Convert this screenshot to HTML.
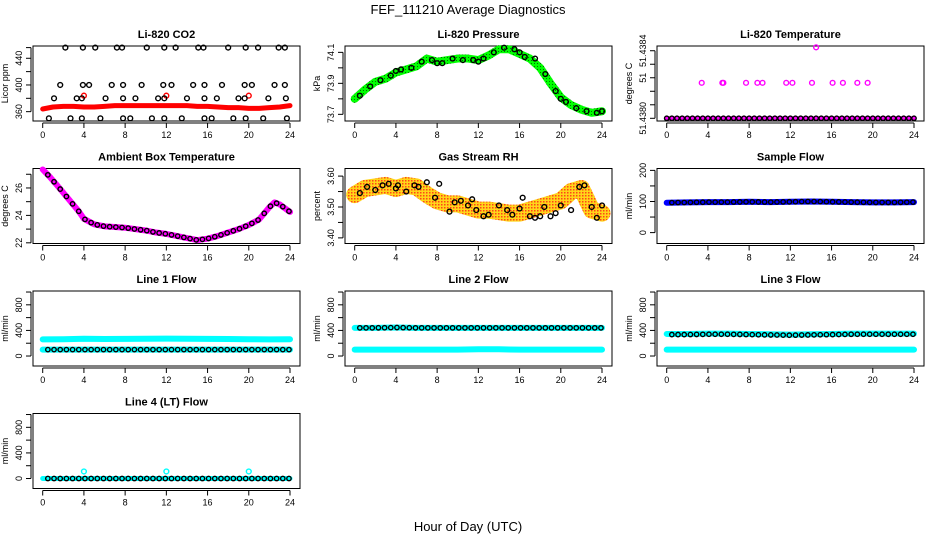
<!DOCTYPE html>
<html><head><meta charset="utf-8"><title>FEF_111210 Average Diagnostics</title>
<style>
html,body{margin:0;padding:0;background:#fff;}
svg{display:block;font-family:"Liberation Sans",Arial,sans-serif;}
</style></head>
<body>
<svg id="chart" width="936" height="540" viewBox="0 0 936 540" xmlns="http://www.w3.org/2000/svg">
<defs>
<pattern id="rhpat" width="3" height="3" patternUnits="userSpaceOnUse">
<rect width="3" height="3" fill="#ffd000"/><rect width="1.5" height="1.5" fill="#ff3000"/>
</pattern>
<pattern id="grpat" width="3" height="3" patternUnits="userSpaceOnUse">
<rect width="3" height="3" fill="#00ff00"/><rect width="1" height="1" fill="#007000"/>
</pattern>
</defs>
<text x="468" y="14" text-anchor="middle" font-size="13">FEF_111210  Average Diagnostics</text>
<text x="468" y="531" text-anchor="middle" font-size="13">Hour of Day (UTC)</text>
</svg>
<script>
// ---------- data arrays ----------
const xTicks = [0,4,8,12,16,20,24];

const co2BandHours = [0,1,2,3,4,5,6,7,8,9,10,11,12,13,14,15,16,17,18,19,20,21,22,23,24];
const co2BandValues = [364,367,368,368,367,367,368,369,369,369,369,369,369,369,369,368,368,367,366,366,365,365,366,367,369];
const co2Hours461 = [2.2,3.9,5.1,7.2,7.7,10.1,11.8,12.9,15.1,15.6,18,19.7,20.9,22.9,23.5];
const co2Hours400 = [1.7,3.9,4.5,6.7,7.8,9.6,11.7,12.5,14.6,15.7,17.4,19.6,20.3,22.5,23.5];
const co2Hours380 = [1.1,3.3,3.8,6.1,7.8,9.0,11.2,11.8,14.0,15.7,16.9,19.0,19.6,21.9,23.6];
const co2Hours350 = [0.6,2.7,3.8,5.6,7.8,8.5,10.6,11.8,13.5,15.7,16.4,18.5,19.7,21.4,23.7];
const co2Levels = [456,400,380,350];
const co2RedHours = [4,12,20];
const co2RedValues = [384,384,384];

const presHours = [0,1,2,3,4,5,6,7,8,9,10,11,12,13,14,15,16,17,18,19,20,21,22,23,24];
const presValues = [73.80,73.86,73.91,73.93,73.97,73.99,74.01,74.06,74.04,74.05,74.06,74.06,74.05,74.08,74.12,74.12,74.09,74.06,74.00,73.90,73.81,73.76,73.73,73.71,73.72];
const presDotHours = [0.5,1.5,2.5,3.5,4,4.5,5.5,6.5,7.5,8,8.5,9.5,10.5,11.5,12,12.5,13.5,14.5,15.5,16,16.5,17.5,18.5,19.5,20,20.5,21.5,22.5,23.5,24];
const presDotValues = [73.82,73.88,73.92,73.95,73.98,73.99,74.00,74.04,74.05,74.03,74.03,74.06,74.05,74.05,74.04,74.06,74.10,74.13,74.12,74.10,74.07,74.06,73.96,73.85,73.80,73.78,73.74,73.72,73.71,73.72];

const tempHoursMid = [3.4,5.4,5.5,7.7,8.8,9.3,11.6,12.2,14.1,16.1,17.1,18.5,19.5];
const tempMidValue = [51.43821];
const tempHoursTop = [14.5];
const tempTopValue = [51.43842];
const tempBaseValue = [51.43800];

const ambHours = [0,0.7,1.5,2.5,3.5,4,5,6,7,8,9,10,11,12,13,14,15,16,17,18,19,20,21,22,22.5,23,24];
const ambValues = [27.35,26.8,26.1,25.2,24.3,23.75,23.35,23.2,23.15,23.1,23.0,22.9,22.75,22.65,22.5,22.35,22.2,22.3,22.5,22.75,23.0,23.3,23.7,24.6,24.95,24.8,24.25];

const rhHours = [0,1,2,3,4,5,6,7,8,9,10,11,12,13,14,15,16,17,18,19,20,21,22,23,24];
const rhValues = [3.54,3.56,3.565,3.57,3.56,3.57,3.565,3.54,3.52,3.51,3.51,3.50,3.49,3.49,3.485,3.48,3.48,3.49,3.50,3.51,3.52,3.55,3.56,3.49,3.48];
const rhDotHours = [0.5,1.2,2,2.7,3.3,4,4.2,5,5.8,6.2,7,7.8,8.2,9.2,9.7,10.3,11.0,11.4,11.8,12.5,13.0,14.0,14.8,15.3,16,16.3,17,17.5,18,18.4,19,19.5,20.0,21,21.8,22.3,23,23.5,24];
const rhDotValues = [3.545,3.565,3.555,3.57,3.575,3.56,3.57,3.55,3.57,3.565,3.58,3.53,3.575,3.485,3.515,3.52,3.505,3.525,3.49,3.47,3.475,3.505,3.49,3.475,3.495,3.53,3.47,3.465,3.47,3.5,3.47,3.48,3.505,3.49,3.565,3.57,3.50,3.465,3.505];

const sampleHours = [0,2,4,6,8,10,12,14,16,18,20,22,24];
const sampleValues = [96,97,98,98,99,98,99,100,99,98,97,97,98];

const flowHours = [0,2,4,6,8,10,12,14,16,18,20,22,24];
const line1Upper = [260,262,270,265,268,270,272,270,268,265,262,260,262];
const line1Lower = [100,100,100,100,100,100,100,100,100,100,100,100,100];
const line2Upper = [440,440,445,440,440,440,440,440,440,440,440,440,440];
const line2Lower = [100,100,100,100,100,100,105,105,100,100,100,100,100];
const line3Upper = [345,345,350,350,345,340,335,340,345,350,350,350,350];
const line3Lower = [100,100,100,100,100,100,100,100,100,100,100,100,100];
const line4Values = [0,0,0,0,0,0,0,0,0,0,0,0,0];
const line4SpikeHours = [4,12,20];
const line4SpikeValues = [110,110,110];

// ---------- drawing ----------
const NS = "http://www.w3.org/2000/svg";
const svg = document.getElementById('chart');
function mk(tag, attrs, parent){ const e=document.createElementNS(NS,tag); for(const k in attrs) e.setAttribute(k,attrs[k]); (parent||svg).appendChild(e); return e; }

function panel(col,row,title,ylab,ymin,ymax,yticks,ylabels,name){
  const L=33+312*col, W=267, T=46+122.5*row, H=75;
  const g=mk('g',{});
  
  
  const sx=h=>L+9.7+h*(247.3/24);
  const sy=v=>T+H-(v-ymin)/(ymax-ymin)*H;
  const box=mk('rect',{x:L,y:T,width:W,height:H,fill:'none',stroke:'#000','stroke-width':1},g);
  
  
  const t=mk('text',{x:L+W/2,y:T-8,'text-anchor':'middle','font-size':11,'font-weight':'bold'},g);
  t.textContent=title;
  
  
  const xa=mk('g',{},g);
  
  
  mk('line',{x1:sx(0),x2:sx(24),y1:T+H+2,y2:T+H+2,stroke:'#000'},xa);
  xTicks.forEach(h=>{
    mk('line',{x1:sx(h),x2:sx(h),y1:T+H+2,y2:T+H+7,stroke:'#000'},xa);
    const lt=mk('text',{x:sx(h),y:T+H+17,'text-anchor':'middle','font-size':9},xa);
    lt.textContent=h;
  });
  const ya=mk('g',{},g);
  
  
  const yv=yticks.map(sy);
  mk('line',{x1:L-2,x2:L-2,y1:Math.min(...yv),y2:Math.max(...yv),stroke:'#000'},ya);
  yticks.forEach((v,i)=>{
    const y=sy(v);
    mk('line',{x1:L-7,x2:L-2,y1:y,y2:y,stroke:'#000'},ya);
    if(ylabels[i]!==''){
      const lt=mk('text',{x:0,y:0,'text-anchor':'middle','font-size':9,transform:`translate(${L-11},${y}) rotate(-90)`},ya);
      lt.textContent=ylabels[i];
    }
  });
  const yt=mk('text',{x:0,y:0,'text-anchor':'middle','font-size':9,transform:`translate(${L-25},${T+H/2}) rotate(-90)`},g);
  yt.textContent=ylab;
  
  
  return {g,sx,sy,L,T,W,H};
}
function band(p,hours,vals,color,width,name){
  const pts=hours.map((h,i)=>p.sx(h)+','+p.sy(vals[i])).join(' ');
  const e=mk('polyline',{points:pts,fill:'none',stroke:color,'stroke-width':width,'stroke-linejoin':'round','stroke-linecap':'round'},p.g);
  
  
  return e;
}
function dots(p,hours,vals,color,name,r){
  const g=mk('g',{},p.g);
  
  
  hours.forEach((h,i)=>{
    const v = vals.length===1 ? vals[0] : vals[i];
    mk('circle',{cx:p.sx(h),cy:p.sy(v),r:r||2.4,fill:'none',stroke:color,'stroke-width':1.4},g);
  });
}
function denseHours(){ const a=[]; for(let h=0.5;h<=24;h+=0.6) a.push(+h.toFixed(2)); return a; }
function interpAt(hours,vals,h){ for(let i=1;i<hours.length;i++){ if(h<=hours[i]){const f=(h-hours[i-1])/(hours[i]-hours[i-1]); return vals[i-1]+f*(vals[i]-vals[i-1]);} } return vals[vals.length-1]; }

// CO2
let p=panel(0,0,'Li-820 CO2','Licor ppm',346,458.4,[360,380,400,420,440,456],['360','','400','','440',''],'co2');
band(p,co2BandHours,co2BandValues,'#ff0000',5,'co2-band');
dots(p,co2RedHours,co2RedValues,'#ff0000','co2-red-points');
dots(p,co2Hours461,[co2Levels[0]],'#000','co2-points-456');
dots(p,co2Hours400,[co2Levels[1]],'#000','co2-points-400');
dots(p,co2Hours380,[co2Levels[2]],'#000','co2-points-380');
dots(p,co2Hours350,[co2Levels[3]],'#000','co2-points-350');

// Pressure
p=panel(1,0,'Li-820 Pressure','kPa',73.657,74.141,[73.7,73.8,73.9,74.0,74.1],['73.7','','73.9','','74.1'],'pressure');
band(p,presHours,presValues,'url(#grpat)',8,'pressure-band');
dots(p,presDotHours,presDotValues,'#000','pressure-points');

// Li-820 Temperature
p=panel(2,0,'Li-820 Temperature','degrees C',51.437984,51.438428,[51.438,51.43808,51.43816,51.43824,51.43832,51.4384],['51.4380','','','51','','51.4384'],'li820-temp');
const th=[]; for(let h=0;h<=24;h+=0.5) th.push(h);
band(p,[0,24],[tempBaseValue[0],tempBaseValue[0]],'#ff00ff',4,'li820-temp-band');
dots(p,th,tempBaseValue,'#000','li820-temp-base-points',2.2);
dots(p,tempHoursMid,tempMidValue,'#ff00ff','li820-temp-mid-points');
dots(p,tempHoursTop,tempTopValue,'#ff00ff','li820-temp-top-points');

// Ambient
p=panel(0,1,'Ambient Box Temperature','degrees C',21.95,27.42,[22,23,24,25,26,27],['22','','24','','26',''],'ambient-temp');
band(p,ambHours,ambValues,'#ff00ff',6,'ambient-temp-band');
const ah=denseHours();
dots(p,ah,ah.map(h=>interpAt(ambHours,ambValues,h)),'#000','ambient-temp-points',2.2);

// Gas Stream RH
p=panel(1,1,'Gas Stream RH','percent',3.3818,3.6246,[3.40,3.45,3.50,3.55,3.60],['3.40','','3.50','','3.60'],'gas-rh');
band(p,rhHours,rhValues,'url(#rhpat)',17,'gas-rh-band').setAttribute('stroke-opacity','0.9');
dots(p,rhDotHours,rhDotValues,'#000','gas-rh-points');

// Sample flow
p=panel(2,1,'Sample Flow','ml/min',-35,206,[0,50,100,150,200],['0','','100','','200'],'sample-flow');
band(p,sampleHours,sampleValues,'#0000ff',6,'sample-flow-band');
const sh=denseHours();
dots(p,sh,sh.map(h=>interpAt(sampleHours,sampleValues,h)),'#000','sample-flow-points',2.2);

// Line flows
function flowPanel(col,row,title,name,upper,lower,blackSeries){
  const q=panel(col,row,title,'ml/min',-156,1016,[0,200,400,600,800,1000],['0','','400','','800',''],name);
  band(q,flowHours,upper,'#00ffff',6,name+'-upper-band');
  band(q,flowHours,lower,'#00ffff',6,name+'-lower-band');
  const dh=denseHours();
  dots(q,dh,dh.map(h=>interpAt(flowHours,blackSeries,h)),'#000',name+'-points',2.2);
  return q;
}
flowPanel(0,2,'Line 1 Flow','line1-flow',line1Upper,line1Lower,line1Lower);
flowPanel(1,2,'Line 2 Flow','line2-flow',line2Upper,line2Lower,line2Upper);
flowPanel(2,2,'Line 3 Flow','line3-flow',line3Upper,line3Lower,line3Upper.map(v=>v-10));
p=panel(0,3,'Line 4 (LT) Flow','ml/min',-156,1016,[0,200,400,600,800,1000],['0','','400','','800',''],'line4-flow');
band(p,flowHours,line4Values,'#00ffff',5,'line4-flow-band');
const lh=denseHours();
dots(p,lh,lh.map(h=>interpAt(flowHours,line4Values,h)),'#000','line4-flow-points',2.2);
dots(p,line4SpikeHours,line4SpikeValues,'#00ffff','line4-flow-spikes');
</script>
</body></html>
